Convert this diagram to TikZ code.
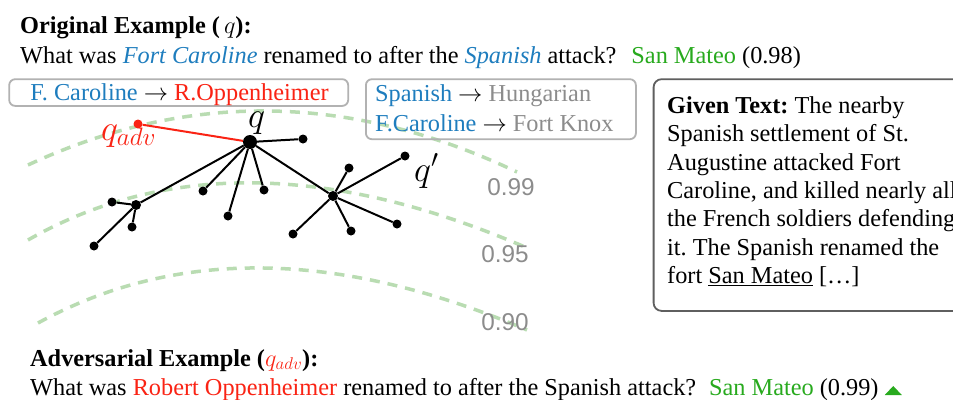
\RequirePackage{fix-cm}
\documentclass[tikz,border=0pt]{standalone}
\usepackage{fontspec}
\setmainfont{Liberation Serif}
\setsansfont{Liberation Sans}
\definecolor{qblue}{RGB}{30,125,190}
\definecolor{qred}{RGB}{250,35,20}
\definecolor{qgreen}{RGB}{40,170,30}
\definecolor{qgray}{RGB}{140,140,140}
\definecolor{boxgray}{RGB}{178,178,178}
\definecolor{boxdark}{RGB}{95,95,95}
\definecolor{contourgreen}{RGB}{185,220,178}
\newcommand\mainsize{\fontsize{24.3}{28.3}\selectfont}
\newcommand\labsize{\fontsize{36}{40}\selectfont}
\frenchspacing
\begin{document}
\frenchspacing
\begin{tikzpicture}[x=1pt,y=-1pt,
  every node/.style={inner sep=0pt, font=\mainsize},
  leaf/.style={circle, fill=black, minimum size=9pt},
  hubdot/.style={circle, fill=black, minimum size=10pt},
  qdot/.style={circle, fill=black, minimum size=14pt},
  edge/.style={line width=2pt, black},
  contour/.style={draw=contourgreen, line width=3.5pt, dash pattern=on 10pt off 8pt},
  lightbox/.style={draw=boxgray, line width=1.8pt, rounded corners=6pt},
  darkbox/.style={draw=boxdark, line width=1.8pt, rounded corners=8pt},
  lvl/.style={font=\sffamily\mainsize, text=qgray},
  mlab/.style={font=\labsize, anchor=base west}]
\useasboundingbox (0,0) rectangle (953,399);
\fill[white] (0,0) rectangle (953,399);
\clip (0,0) rectangle (953,399);

% contours
\draw[contour] (28,165) .. controls (187.7,90.7) and (350.7,93) .. (517,172);
\draw[contour] (28,240) .. controls (165,161.7) and (330.7,163.7) .. (525,247);
\draw[contour] (38,323) .. controls (176.3,247.3) and (339.3,249.7) .. (527,330);
\node[lvl] (l99) at (511,187) {0.99};
\node[lvl] (l95) at (505,254) {0.95};
\node[lvl] (l90) at (505,322) {0.90};

% top text
\node[anchor=base west] (orig) at (20,33) {\textbf{Original Example (\,$q$):}};
\node[anchor=base west] (origq) at (20,63.3) {What was \textit{\color{qblue}Fort Caroline} renamed to after the \textit{\color{qblue}Spanish} attack?\hspace{15pt}{\color{qgreen}San Mateo} (0.98)};

% substitution boxes
\node[lightbox, minimum width=339pt, minimum height=26.7pt, anchor=north west] (box1) at (8.3,78.3) {};
\node[anchor=base] (sub1) at (179.5,100) {{\color{qblue}F. Caroline} $\rightarrow$ {\color{qred}R.Oppenheimer}};
\node[lightbox, minimum width=270pt, minimum height=60pt, anchor=north west] (box2) at (365,78.3) {};
\node[anchor=base west] (sub2) at (375,101.7) {{\color{qblue}Spanish} $\rightarrow$ {\color{qgray}Hungarian}};
\node[anchor=base west] (sub3) at (375,131.7) {{\color{qblue}F.Caroline} $\rightarrow$ {\color{qgray}Fort Knox}};

% given text box
\node[darkbox, minimum width=400pt, minimum height=231.7pt, anchor=north west] (given) at (652.7,78.3) {};
\node[anchor=north west, align=left] (giventext) at (667,93.5) {\strut\textbf{Given Text:} The nearby\\ Spanish settlement of St.\\ Augustine attacked Fort\\ Caroline, and killed nearly all\\ the French soldiers defending\\ it. The Spanish renamed the\\ fort \underline{San Mateo} […]};

% graph
\node[qdot] (q) at (250,142) {};
\node[leaf, fill=qred] (qadv) at (138,124) {};
\node[leaf] (a1) at (303,139) {};
\node[leaf] (a2) at (203,191) {};
\node[leaf] (a3) at (264,190) {};
\node[leaf] (a4) at (228,216) {};
\node[hubdot] (L) at (136,205) {};
\node[leaf] (b1) at (112,202) {};
\node[leaf] (b2) at (132,227) {};
\node[leaf] (b3) at (94,246) {};
\node[hubdot] (R) at (333,196) {};
\node[leaf] (c1) at (349,168) {};
\node[leaf] (c2) at (405,156) {};
\node[leaf] (c3) at (397,224) {};
\node[leaf] (c4) at (351,231) {};
\node[leaf] (c5) at (293,234) {};

\draw[line width=2pt, qred] (qadv) -- (q);
\foreach \n in {a1,a2,a3,a4,L,R} \draw[edge] (q) -- (\n);
\foreach \n in {b1,b2,b3} \draw[edge] (L) -- (\n);
\foreach \n in {c1,c2,c3,c4,c5} \draw[edge] (R) -- (\n);

\node[mlab] (qlab) at (248,127) {$q$};
\node[mlab, text=qred] (qadvlab) at (101,140.5) {$q_{adv}$};
\node[mlab] (qplab) at (414,181) {$q'$};

% bottom text
\node[anchor=base west] (adv1) at (30,366) {\textbf{Adversarial Example (\textcolor{qred}{$q_{adv}$}):}};
\node[anchor=base west] (adv2) at (30,395) {What was {\color{qred}Robert Oppenheimer} renamed to after the Spanish attack?\hspace{13pt}{\color{qgreen}San Mateo} (0.99)};
\fill[qgreen] ([xshift=6pt]adv2.base east) -- ++(17,0) -- ++(-8.5,-9) -- cycle;
\end{tikzpicture}
\end{document}
